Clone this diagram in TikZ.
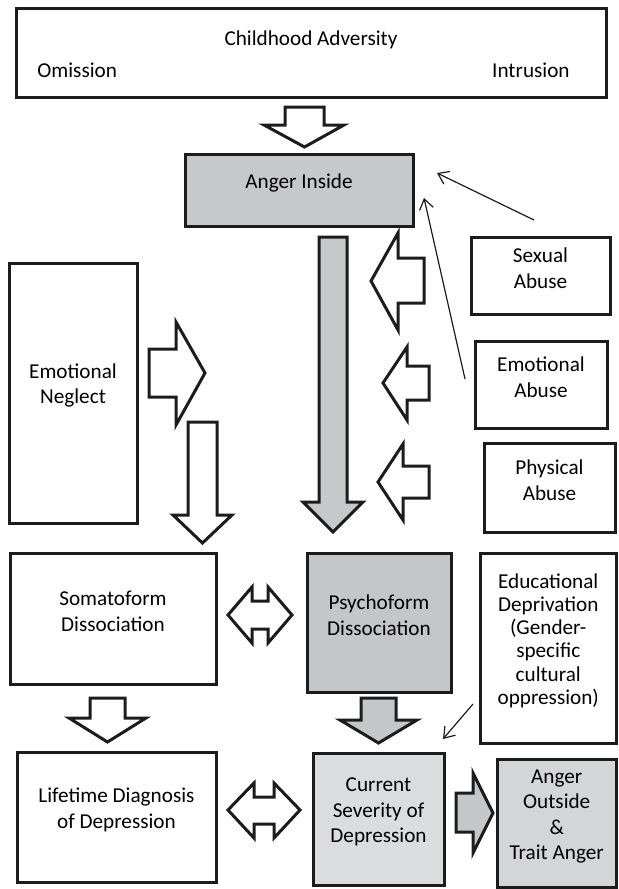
\documentclass[tikz,border=0pt]{standalone}
\usepackage{fontspec}
\setmainfont{Carlito}
\usepackage{tikz}
\usepackage{xcolor}
\usetikzlibrary{fit,arrows.meta}

\definecolor{angergray}{HTML}{C7C8CA}
\definecolor{psychogray}{HTML}{C5C6C8}
\definecolor{lightgray}{HTML}{DBDCDE}
\definecolor{edgegray}{HTML}{1C1C1C}

\begin{document}
\begin{tikzpicture}[x=0.5pt,y=-0.5pt,
                    box/.style={draw=edgegray, line width=1.5pt, inner sep=0pt, align=center,
                                font=\fontsize{10.6}{12.7}\selectfont},
                    label text/.style={inner sep=0pt, font=\fontsize{10.6}{12.7}\selectfont},
                    blockarrow/.style={draw=edgegray, line width=1.5pt, fill=white, line join=miter},
                    thinarrow/.style={draw=edgegray, line width=0.6pt, -{Straight Barb[length=5pt,width=7pt]}}]
    \useasboundingbox (0,0) rectangle (618,889);

    % top box
    \node[box, fit={(16.5,8) (606,97)}] (adversity) {};
    \node[label text] (advTitle) at (311,40) {Childhood Adversity};
    \node[label text, anchor=west] (omission) at (37,70) {Omission};
    \node[label text, anchor=east] (intrusion) at (570,70) {Intrusion};

    % boxes
    \node[box, fill=angergray, fit={(185,154) (413,226)}] (angerIn) {Anger Inside};
    \node[box, fit={(471,237) (610,314)}] (sexual) {Sexual\\Abuse};
    \node[box, fit={(475,341) (607,428)}] (emoAbuse) {Emotional\\Abuse};
    \node[box, fit={(484,443) (615,532)}] (physical) {Physical\\Abuse};
    \node[box, fit={(9,263) (137,523)}] (neglect) {Emotional\\Neglect};
    \node[box, fit={(10,553) (216,684)}] (somato) {Somatoform\\Dissociation};
    \node[box, fill=psychogray, fit={(307,553) (451,692)}] (psycho) {Psychoform\\Dissociation};
    \node[box, fit={(480,553) (616.5,743)}, font=\fontsize{10.6}{11.6}\selectfont] (edu)
        {Educational\\Deprivation\\(Gender-\\specific\\cultural\\oppression)};
    \node[box, fit={(17,752) (216,882)}] (lifetime) {Lifetime Diagnosis\\of Depression};
    \node[box, fill=lightgray, fit={(313,753) (444,885)}] (current) {Current\\Severity of\\Depression};
    \node[box, fill=lightgray!97!black, fit={(497,759) (616.5,887.5)}] (angerOut) {Anger\\Outside\\\&\\Trait Anger};

    % block arrows
    \draw[blockarrow] (285,107) -- (324,107) -- (324,125) -- (344,125) -- (304.5,147)
        -- (264,125) -- (285,125) -- cycle;
    \draw[blockarrow, fill=angergray] (319,237) -- (347,237) -- (347,502) -- (363,502) -- (333,532)
        -- (303,502) -- (319,502) -- cycle;
    \draw[blockarrow] (424,258) -- (398,258) -- (398,233) -- (371,281) -- (398,330)
        -- (398,303) -- (424,303) -- cycle;
    \draw[blockarrow] (429,366) -- (407,366) -- (407,347) -- (383,383) -- (407,420)
        -- (407,400) -- (429,400) -- cycle;
    \draw[blockarrow] (429,466) -- (403,466) -- (403,444) -- (378,482) -- (403,520)
        -- (403,498) -- (429,498) -- cycle;
    \draw[blockarrow] (149,349) -- (176,349) -- (176,322) -- (205,373) -- (176,425)
        -- (176,397) -- (149,397) -- cycle;
    \draw[blockarrow] (188,422) -- (217,422) -- (217,515) -- (232,515) -- (202.5,543)
        -- (173,515) -- (188,515) -- cycle;
    \draw[blockarrow] (228,615) -- (252,587) -- (252,601) -- (268,601) -- (268,587) -- (292,615)
        -- (268,643) -- (268,629) -- (252,629) -- (252,643) -- cycle;
    \draw[blockarrow] (90,698) -- (125,698) -- (125,718) -- (146,718) -- (107.5,742)
        -- (69,718) -- (90,718) -- cycle;
    \draw[blockarrow, fill=psychogray] (361,698) -- (396,698) -- (396,720) -- (417,720) -- (378.5,743)
        -- (340,720) -- (361,720) -- cycle;
    \draw[blockarrow] (228,810) -- (254,783) -- (254,797) -- (274,797) -- (274,783) -- (300,810)
        -- (274,838) -- (274,824) -- (254,824) -- (254,838) -- cycle;
    \draw[blockarrow, fill=psychogray] (456,793) -- (473,793) -- (473,773) -- (493,813) -- (473,853)
        -- (473,832) -- (456,832) -- cycle;

    % thin arrows
    \coordinate (sexTail) at (534,220);
    \coordinate (sexHead) at (437,173);
    \coordinate (emoTail) at (465,379);
    \coordinate (emoHead) at (424,198);
    \coordinate (eduTail) at (473,704);
    \coordinate (eduHead) at (443,739);
    \draw[thinarrow] (sexTail) -- (sexHead);
    \draw[thinarrow] (emoTail) -- (emoHead);
    \draw[thinarrow] (eduTail) -- (eduHead);
\end{tikzpicture}
\end{document}
